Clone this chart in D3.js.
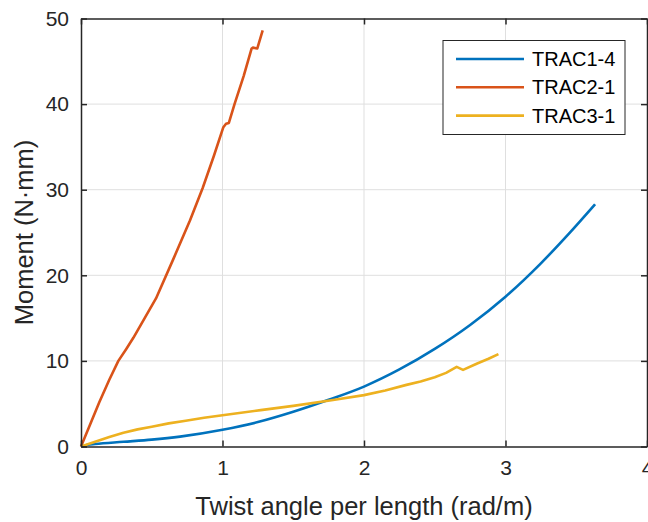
<!DOCTYPE html>
<html>
<head>
<meta charset="utf-8">
<script src="https://cdn.jsdelivr.net/npm/d3@7"></script>
<style>
  body { margin: 0; background: #fff; }
  svg { display: block; font-family: "Liberation Sans", Arial, sans-serif; }
</style>
</head>
<body>
<script>
// data: [twist angle (rad/m), moment (N·mm)]
var seriesNames = ['TRAC1-4', 'TRAC2-1', 'TRAC3-1'];
var seriesColors = ['#0072BD', '#D95319', '#EDB120'];

var trac14 = [[0,0],[0.05,0.2],[0.1,0.3],[0.3,0.55],[0.5,0.8],[0.7,1.15],[1.0,1.95],[1.25,2.85],[1.5,4.05],
  [1.75,5.45],[2.0,7.0],[2.25,9.0],[2.5,11.4],[2.75,14.2],[3.0,17.5],[3.25,21.4],[3.45,24.9],[3.633,28.3]];

var trac21 = [[0,0],[0.06,2.4],[0.13,5.2],[0.2,7.8],[0.264,10],[0.32,11.4],[0.37,12.7],[0.45,15],[0.53,17.3],
  [0.65,21.8],[0.77,26.4],[0.86,30.2],[0.94,34],[1.006,37.3],[1.025,37.7],[1.045,37.8],[1.085,40],[1.15,43.3],
  [1.206,46.5],[1.215,46.6],[1.246,46.5],[1.284,48.6]];

var trac31 = [[0,0],[0.1,0.55],[0.2,1.1],[0.3,1.6],[0.4,2.0],[0.5,2.3],[0.62,2.7],[0.74,3.0],[0.87,3.35],[1.0,3.65],
  [1.27,4.25],[1.5,4.75],[1.77,5.4],[2.0,6.0],[2.15,6.55],[2.3,7.2],[2.4,7.6],[2.5,8.1],[2.58,8.6],[2.655,9.3],
  [2.70,8.95],[2.8,9.7],[2.88,10.25],[2.95,10.8]];

var xTicks = [0, 1, 2, 3, 4];
var yTicks = [0, 10, 20, 30, 40, 50];

var allSeries = [trac14, trac21, trac31];

var svgWidth = 648, svgHeight = 522;
var plotLeft = 81, plotRight = 647, plotTop = 18.5, plotBottom = 446.5;
var axisColor = '#262626';

var svg = d3.select('body').append('svg')
  .attr('width', svgWidth)
  .attr('height', svgHeight);

var x = d3.scaleLinear().domain([0, 4]).range([plotLeft, plotRight]);
var y = d3.scaleLinear().domain([0, 50]).range([plotBottom, plotTop]);

// grid
svg.append('g').selectAll('line').data(xTicks.slice(1, -1)).enter().append('line')
  .attr('x1', function(d) { return x(d); }).attr('x2', function(d) { return x(d); })
  .attr('y1', plotTop).attr('y2', plotBottom)
  .attr('stroke', '#dfdfdf').attr('stroke-width', 1);
svg.append('g').selectAll('line').data(yTicks.slice(1, -1)).enter().append('line')
  .attr('x1', plotLeft).attr('x2', plotRight)
  .attr('y1', function(d) { return y(d); }).attr('y2', function(d) { return y(d); })
  .attr('stroke', '#dfdfdf').attr('stroke-width', 1);

// lines: smooth the blue one, keep the sharp kinks of the other two
var smoothLine = d3.line()
  .curve(d3.curveMonotoneX)
  .x(function(d) { return x(d[0]); })
  .y(function(d) { return y(d[1]); });
var plainLine = d3.line()
  .x(function(d) { return x(d[0]); })
  .y(function(d) { return y(d[1]); });

svg.append('g').selectAll('path').data(allSeries).enter().append('path')
  .attr('d', function(d, i) { return i === 0 ? smoothLine(d) : plainLine(d); })
  .attr('fill', 'none')
  .attr('stroke', function(d, i) { return seriesColors[i]; })
  .attr('stroke-width', 2.6)
  .attr('stroke-linejoin', 'round');

// axes, ticks inward, box on
function styleAxis(g) {
  g.select('.domain').attr('stroke', axisColor).attr('stroke-width', 1.5);
  g.selectAll('.tick line').attr('stroke', axisColor).attr('stroke-width', 1.5);
  g.selectAll('.tick text').attr('fill', axisColor).attr('font-size', 21)
    .attr('font-family', '"Liberation Sans", Arial, sans-serif');
}

svg.append('g').attr('transform', 'translate(0,' + plotBottom + ')')
  .call(d3.axisBottom(x).tickValues(xTicks).tickFormat(d3.format('d')).tickSizeInner(-6).tickSizeOuter(0).tickPadding(14))
  .call(styleAxis);
svg.append('g').attr('transform', 'translate(0,' + plotTop + ')')
  .call(d3.axisTop(x).tickValues(xTicks).tickFormat('').tickSizeInner(-6).tickSizeOuter(0))
  .call(styleAxis);
svg.append('g').attr('transform', 'translate(' + plotLeft + ',0)')
  .call(d3.axisLeft(y).tickValues(yTicks).tickSizeInner(-6).tickSizeOuter(0).tickPadding(12))
  .call(styleAxis);
svg.append('g').attr('transform', 'translate(' + plotRight + ',0)')
  .call(d3.axisRight(y).tickValues(yTicks).tickFormat('').tickSizeInner(-6).tickSizeOuter(0))
  .call(styleAxis);

// axis labels
svg.append('text')
  .attr('x', (plotLeft + plotRight) / 2).attr('y', 515)
  .attr('text-anchor', 'middle')
  .attr('font-size', 25.5).attr('fill', axisColor)
  .text('Twist angle per length (rad/m)');

svg.append('text')
  .attr('transform', 'translate(33,' + (plotTop + plotBottom) / 2 + ') rotate(-90)')
  .attr('text-anchor', 'middle')
  .attr('font-size', 25.5).attr('fill', axisColor)
  .text('Moment (N·mm)');

// legend
var legend = svg.append('g');
legend.append('rect')
  .attr('x', 443).attr('y', 40.5).attr('width', 182).attr('height', 94)
  .attr('fill', '#fff').attr('stroke', axisColor).attr('stroke-width', 1);

var rows = legend.selectAll('g.row').data(seriesNames).enter().append('g')
  .attr('transform', function(d, i) { return 'translate(0,' + (59 + i * 28.3) + ')'; });
rows.append('line')
  .attr('x1', 456).attr('x2', 524)
  .attr('stroke', function(d, i) { return seriesColors[i]; })
  .attr('stroke-width', 2.6);
rows.append('text')
  .attr('x', 532).attr('y', 7)
  .attr('font-size', 20).attr('fill', '#000')
  .text(function(d) { return d; });
</script>
</body>
</html>
